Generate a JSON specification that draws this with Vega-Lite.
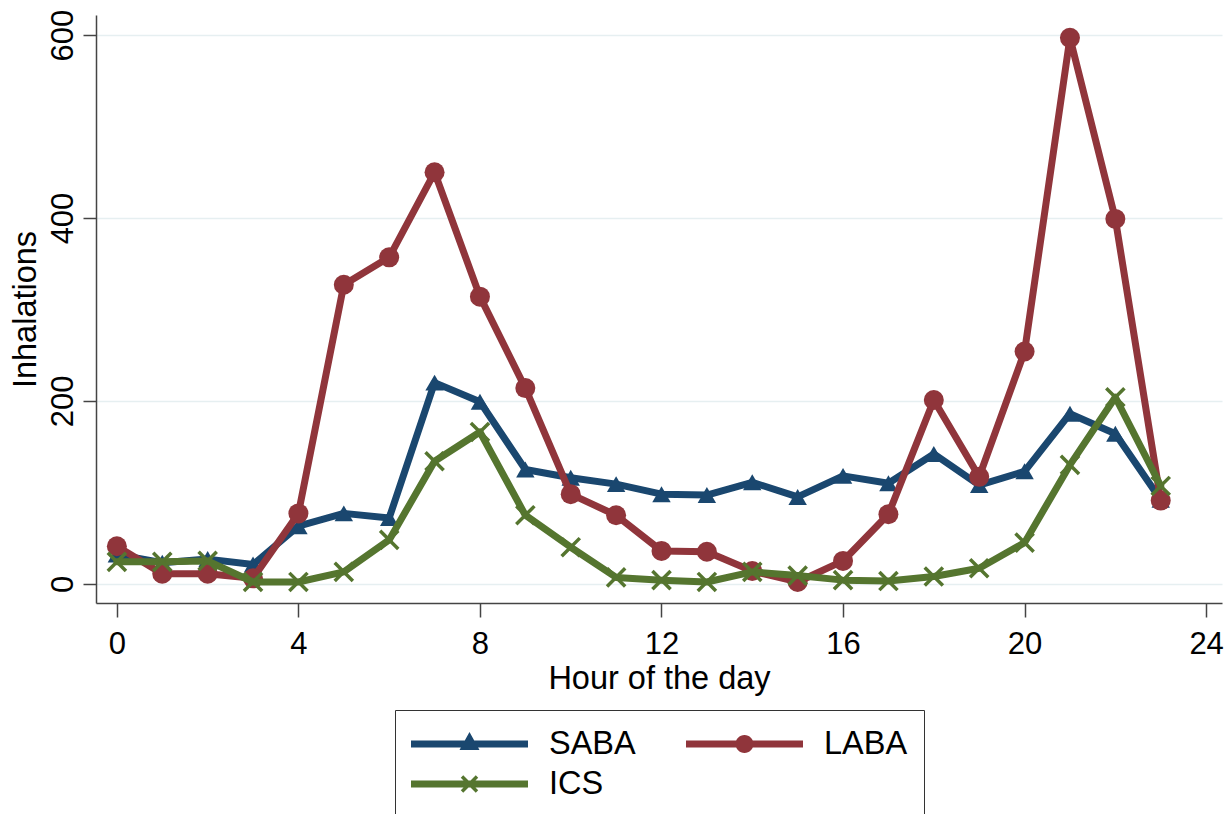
{
  "$schema": "https://vega.github.io/schema/vega-lite/v6.json",
  "width": 1126,
  "height": 588,
  "autosize": {"type": "none"},
  "padding": {"left": 96, "top": 15, "right": 7, "bottom": 211},
  "background": "white",
  "config": {
    "font": "Liberation Sans",
    "view": {"stroke": null},
    "axis": {
      "domainColor": "#444444",
      "domainWidth": 1.5,
      "tickColor": "#444444",
      "tickWidth": 1.5,
      "labelColor": "#000000",
      "titleColor": "#000000",
      "labelFont": "Liberation Sans",
      "titleFont": "Liberation Sans",
      "labelFontSize": 31,
      "titleFontSize": 32.5,
      "titleFontWeight": "normal"
    }
  },
  "data": {
    "values": [
      {"hour": 0, "series": "SABA", "value": 32},
      {"hour": 1, "series": "SABA", "value": 23},
      {"hour": 2, "series": "SABA", "value": 27},
      {"hour": 3, "series": "SABA", "value": 21},
      {"hour": 4, "series": "SABA", "value": 63},
      {"hour": 5, "series": "SABA", "value": 77},
      {"hour": 6, "series": "SABA", "value": 72},
      {"hour": 7, "series": "SABA", "value": 220},
      {"hour": 8, "series": "SABA", "value": 199},
      {"hour": 9, "series": "SABA", "value": 125},
      {"hour": 10, "series": "SABA", "value": 116},
      {"hour": 11, "series": "SABA", "value": 109},
      {"hour": 12, "series": "SABA", "value": 98},
      {"hour": 13, "series": "SABA", "value": 97},
      {"hour": 14, "series": "SABA", "value": 111},
      {"hour": 15, "series": "SABA", "value": 95},
      {"hour": 16, "series": "SABA", "value": 118},
      {"hour": 17, "series": "SABA", "value": 110},
      {"hour": 18, "series": "SABA", "value": 142},
      {"hour": 19, "series": "SABA", "value": 108},
      {"hour": 20, "series": "SABA", "value": 123},
      {"hour": 21, "series": "SABA", "value": 186},
      {"hour": 22, "series": "SABA", "value": 164},
      {"hour": 23, "series": "SABA", "value": 92},
      {"hour": 0, "series": "LABA", "value": 41},
      {"hour": 1, "series": "LABA", "value": 11},
      {"hour": 2, "series": "LABA", "value": 11},
      {"hour": 3, "series": "LABA", "value": 6},
      {"hour": 4, "series": "LABA", "value": 77},
      {"hour": 5, "series": "LABA", "value": 327},
      {"hour": 6, "series": "LABA", "value": 357},
      {"hour": 7, "series": "LABA", "value": 450},
      {"hour": 8, "series": "LABA", "value": 314},
      {"hour": 9, "series": "LABA", "value": 214},
      {"hour": 10, "series": "LABA", "value": 98},
      {"hour": 11, "series": "LABA", "value": 75},
      {"hour": 12, "series": "LABA", "value": 36},
      {"hour": 13, "series": "LABA", "value": 35},
      {"hour": 14, "series": "LABA", "value": 14},
      {"hour": 15, "series": "LABA", "value": 2},
      {"hour": 16, "series": "LABA", "value": 25},
      {"hour": 17, "series": "LABA", "value": 76},
      {"hour": 18, "series": "LABA", "value": 201},
      {"hour": 19, "series": "LABA", "value": 117},
      {"hour": 20, "series": "LABA", "value": 254},
      {"hour": 21, "series": "LABA", "value": 597},
      {"hour": 22, "series": "LABA", "value": 399},
      {"hour": 23, "series": "LABA", "value": 91},
      {"hour": 0, "series": "ICS", "value": 24},
      {"hour": 1, "series": "ICS", "value": 24},
      {"hour": 2, "series": "ICS", "value": 25},
      {"hour": 3, "series": "ICS", "value": 2},
      {"hour": 4, "series": "ICS", "value": 2},
      {"hour": 5, "series": "ICS", "value": 13},
      {"hour": 6, "series": "ICS", "value": 48},
      {"hour": 7, "series": "ICS", "value": 134},
      {"hour": 8, "series": "ICS", "value": 166},
      {"hour": 9, "series": "ICS", "value": 75},
      {"hour": 10, "series": "ICS", "value": 40},
      {"hour": 11, "series": "ICS", "value": 7},
      {"hour": 12, "series": "ICS", "value": 4},
      {"hour": 13, "series": "ICS", "value": 2},
      {"hour": 14, "series": "ICS", "value": 13},
      {"hour": 15, "series": "ICS", "value": 9},
      {"hour": 16, "series": "ICS", "value": 4},
      {"hour": 17, "series": "ICS", "value": 3},
      {"hour": 18, "series": "ICS", "value": 8},
      {"hour": 19, "series": "ICS", "value": 17},
      {"hour": 20, "series": "ICS", "value": 45},
      {"hour": 21, "series": "ICS", "value": 130},
      {"hour": 22, "series": "ICS", "value": 204},
      {"hour": 23, "series": "ICS", "value": 107}
    ]
  },
  "encoding": {
    "x": {
      "field": "hour",
      "type": "quantitative",
      "scale": {"domain": [-0.46, 24.35], "nice": false, "zero": false},
      "axis": {
        "values": [0, 4, 8, 12, 16, 20, 24],
        "title": "Hour of the day",
        "grid": false,
        "tickSize": 14,
        "labelPadding": 12,
        "titlePadding": 3,
        "labelFlush": false
      }
    },
    "y": {
      "field": "value",
      "type": "quantitative",
      "scale": {"domain": [-21, 622], "nice": false, "zero": false},
      "axis": {
        "values": [0, 200, 400, 600],
        "title": "Inhalations",
        "grid": true,
        "gridColor": "#e6eff1",
        "gridWidth": 1.5,
        "tickSize": 13,
        "labelAngle": -90,
        "labelAlign": "center",
        "labelBaseline": "alphabetic",
        "labelPadding": 11,
        "titlePadding": 5,
        "labelFlush": false
      }
    },
    "color": {
      "field": "series",
      "type": "nominal",
      "scale": {"domain": ["SABA", "LABA", "ICS"], "range": ["#1a476f", "#90353b", "#55752f"]},
      "legend": {
        "title": null,
        "orient": "none",
        "legendX": 299,
        "legendY": 695,
        "columns": 2,
        "direction": "horizontal",
        "strokeColor": "#333333",
        "fillColor": "white",
        "padding": 16,
        "columnPadding": 50,
        "rowPadding": 4,
        "clipHeight": 36,
        "symbolSize": 13689,
        "symbolOffset": 0,
        "labelOffset": 21,
        "labelFont": "Liberation Sans",
        "labelFontSize": 32.5,
        "labelColor": "#000000",
        "labelBaseline": "middle",
        "labelLimit": 400,
        "encode": {
          "symbols": {
            "update": {
              "shape": {"signal": "datum.value === 'SABA' ? 'M-1,-0.06L1,-0.06L1,0.06L-1,0.06Z M-0.171,0.103L0,-0.205L0.171,0.103Z' : datum.value === 'LABA' ? 'M-1,-0.06L1,-0.06L1,0.06L-1,0.06Z M-0.154,0A0.154,0.154 0 1,1 0.154,0A0.154,0.154 0 1,1 -0.154,0Z' : 'M-1,-0.06L1,-0.06L1,0.06L-1,0.06Z M-0.107,-0.149L0.149,0.107L0.107,0.149L-0.149,-0.107Z M-0.149,0.107L0.107,-0.149L0.149,-0.107L-0.107,0.149Z'"},
              "fill": {"scale": "color", "field": "value"},
              "stroke": {"value": "transparent"},
              "strokeWidth": {"value": 0},
              "size": {"value": 13689},
              "opacity": {"value": 1}
            }
          }
        }
      }
    }
  },
  "layer": [
    {
      "transform": [{"filter": "datum.series === 'SABA'"}],
      "mark": {"type": "line", "strokeWidth": 7, "strokeJoin": "round", "strokeCap": "round"}
    },
    {
      "transform": [{"filter": "datum.series === 'SABA'"}],
      "mark": {"type": "point", "shape": "triangle-up", "filled": true, "size": 340, "opacity": 1}
    },
    {
      "transform": [{"filter": "datum.series === 'LABA'"}],
      "mark": {"type": "line", "strokeWidth": 7, "strokeJoin": "round", "strokeCap": "round"}
    },
    {
      "transform": [{"filter": "datum.series === 'LABA'"}],
      "mark": {"type": "point", "shape": "circle", "filled": true, "size": 400, "opacity": 1}
    },
    {
      "transform": [{"filter": "datum.series === 'ICS'"}],
      "mark": {"type": "line", "strokeWidth": 7, "strokeJoin": "round", "strokeCap": "round"}
    },
    {
      "transform": [{"filter": "datum.series === 'ICS'"}],
      "mark": {"type": "point", "shape": "M-1,-1L1,1M-1,1L1,-1", "filled": false, "strokeWidth": 3.5, "size": 330, "opacity": 1}
    }
  ]
}
